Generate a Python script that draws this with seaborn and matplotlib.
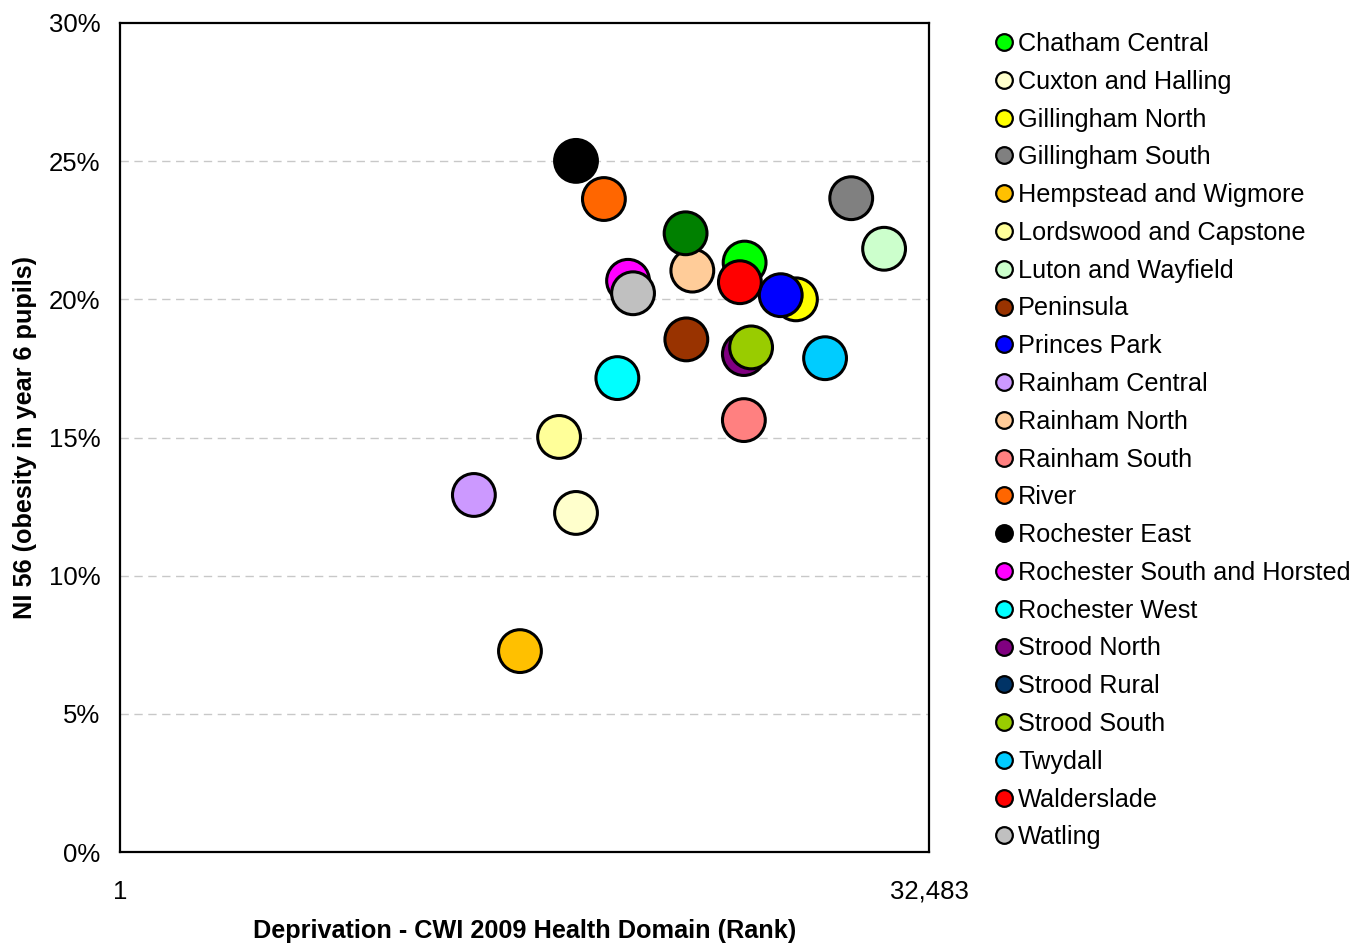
import pandas as pd
import seaborn as sns
import matplotlib.pyplot as plt
from matplotlib.lines import Line2D
from matplotlib.ticker import FuncFormatter

# Ward names, deprivation rank and obesity rate
wards = ["Chatham Central", "Cuxton and Halling", "Gillingham North", "Gillingham South",
         "Hempstead and Wigmore", "Lordswood and Capstone", "Luton and Wayfield", "Peninsula",
         "Princes Park", "Rainham Central", "Rainham North", "Rainham South", "River",
         "Rochester East", "Rochester South and Horsted", "Rochester West", "Strood North",
         "Strood Rural", "Strood South", "Twydall", "Walderslade", "Watling"]
deprivation_rank = [25080, 18310, 27140, 29360, 16060, 17630, 30680, 22740, 26530, 14210, 22980,
                    25050, 19430, 18310, 20400, 19970, 25050, 22710, 25340, 28310, 24890, 20600]
obesity_pct = [21.33, 12.27, 20.00, 23.66, 7.27, 15.02, 21.83, 18.55, 20.15, 12.92, 21.04,
               15.63, 23.63, 25.01, 20.67, 17.15, 18.02, 22.39, 18.26, 17.87, 20.62, 20.22]

# Marker colours in the plot; Strood Rural shows dark green on the chart, navy in the key
point_colors = ["#00FF00", "#FFFFCC", "#FFFF00", "#808080", "#FFC000", "#FFFF99", "#CCFFCC",
                "#993300", "#0000FF", "#CC99FF", "#FFCC99", "#FF8080", "#FF6600", "#000000",
                "#FF00FF", "#00FFFF", "#800080", "#008000", "#99CC00", "#00CCFF", "#FF0000",
                "#C0C0C0"]
legend_colors = point_colors.copy()
legend_colors[wards.index("Strood Rural")] = "#003366"

x_ticks = [1, 32483]
y_ticks = [0, 5, 10, 15, 20, 25, 30]

df = pd.DataFrame({"Ward": wards, "Rank": deprivation_rank, "Obesity": obesity_pct})

sns.set_style("white")
plt.rcParams['font.family'] = ['Liberation Sans', 'DejaVu Sans']
plt.rcParams['text.color'] = 'black'
plt.rcParams['axes.labelcolor'] = 'black'
plt.rcParams['xtick.color'] = 'black'
plt.rcParams['ytick.color'] = 'black'

fig = plt.figure(figsize=(13.54, 9.44), dpi=100)
ax = fig.add_axes([120 / 1354, 92 / 944, 809 / 1354, 829 / 944])

# Dashed gridlines
for yv in y_ticks[1:-1]:
    ax.axhline(yv, color="#C8C8C8", linestyle=(0, (6, 4)), linewidth=1, zorder=0)

sns.scatterplot(data=df, x="Rank", y="Obesity", hue="Ward", palette=point_colors,
                s=950, edgecolor="black", linewidth=2.2, legend=False, ax=ax, zorder=3)

ax.set_xlim(1, 32483)
ax.set_ylim(0, 30)
ax.set_xticks(x_ticks)
ax.xaxis.set_major_formatter(FuncFormatter(lambda v, p: f"{int(round(v)):,}"))
ax.set_yticks(y_ticks)
ax.yaxis.set_major_formatter(FuncFormatter(lambda v, p: f"{int(v)}%"))
ax.tick_params(axis="x", length=0, pad=20, labelsize=18.5)
ax.tick_params(axis="y", length=0, pad=14, labelsize=18.5)

ax.set_xlabel("Deprivation - CWI 2009 Health Domain (Rank)", fontweight="bold", fontsize=18.2)
ax.set_ylabel("NI 56 (obesity in year 6 pupils)", fontweight="bold", fontsize=18.2)
ax.xaxis.label.set_verticalalignment("center")
ax.yaxis.label.set_verticalalignment("center")
ax.xaxis.set_label_coords(0.5, -(931 - 852) / 829)
ax.yaxis.set_label_coords(-(120 - 25) / 809, 0.5)

for side in ["top", "bottom", "left", "right"]:
    ax.spines[side].set_visible(True)
    ax.spines[side].set_color("black")
    ax.spines[side].set_linewidth(1.6)

# Key on the right
handles = [Line2D([0], [0], marker="o", linestyle="", markersize=12, markerfacecolor=c,
                  markeredgecolor="black", markeredgewidth=1.6) for c in legend_colors]
fig.legend(handles, wards, loc="upper left", bbox_to_anchor=(990 / 1354, 1 - 32 / 944),
           frameon=False, fontsize=18.2, handletextpad=0.02, labelspacing=0.545,
           handlelength=1.1, borderaxespad=0, borderpad=0)

plt.savefig("out.png", dpi=100)
